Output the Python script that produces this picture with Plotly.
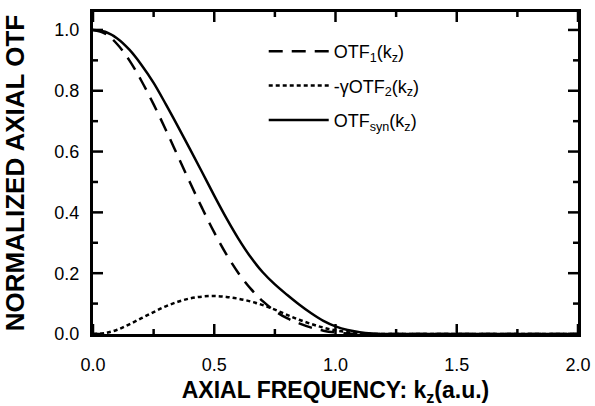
import plotly.graph_objects as go

k = [0.0, 0.05, 0.1, 0.15, 0.2, 0.25, 0.3, 0.35, 0.4, 0.45, 0.5, 0.55, 0.6, 0.65, 0.7,
     0.75, 0.8, 0.85, 0.9, 0.95, 1.0, 1.05, 1.1, 1.15, 1.2, 1.4, 1.6, 1.8, 2.0]
otf1 = [1.0, 0.988, 0.953, 0.9, 0.832, 0.755, 0.672, 0.585, 0.498, 0.414, 0.334, 0.262, 0.2,
        0.149, 0.108, 0.076, 0.052, 0.035, 0.021, 0.011, 0.005, 0.002, 0.0005, 0.0, 0.0,
        0.0, 0.0, 0.0, 0.0]
gotf2 = [0.0, 0.003, 0.014, 0.032, 0.052, 0.072, 0.091, 0.106, 0.117, 0.123, 0.125, 0.122,
         0.116, 0.107, 0.095, 0.08, 0.063, 0.047, 0.033, 0.021, 0.012, 0.006, 0.002, 0.0,
         0.0, 0.0, 0.0, 0.0, 0.0]
otfsyn = [1.0, 0.994, 0.972, 0.935, 0.885, 0.826, 0.756, 0.683, 0.608, 0.532, 0.455, 0.381,
          0.313, 0.253, 0.203, 0.163, 0.129, 0.097, 0.068, 0.043, 0.025, 0.013, 0.006, 0.002,
          0.0, 0.0, 0.0, 0.0, 0.0]

names = ["OTF<sub>1</sub>(k<sub>z</sub>)",
         "-\u03b3OTF<sub>2</sub>(k<sub>z</sub>)",
         "OTF<sub>syn</sub>(k<sub>z</sub>)"]

x_major = [0.0, 0.5, 1.0, 1.5, 2.0]
x_minor = [0.25, 0.75, 1.25, 1.75]
y_major = [0.0, 0.2, 0.4, 0.6, 0.8, 1.0]
y_minor = [0.1, 0.3, 0.5, 0.7, 0.9]
X_MAX = 2.0
Y_MAX = 1.059

W, H = 595, 406
ML, MR, MT, MB = 93, 17, 12, 72
PX_X = X_MAX / (W - ML - MR)   # data units per pixel, x
PX_Y = Y_MAX / (H - MT - MB)   # data units per pixel, y

fig = go.Figure()
fig.add_trace(go.Scatter(x=k, y=otf1, mode="lines", name=names[0], legendgroup="a",
                         line=dict(color="black", width=2.5, dash="14px,9px", shape="spline")))
fig.add_trace(go.Scatter(x=k, y=gotf2, mode="lines", name=names[1], legendgroup="b",
                         line=dict(color="black", width=2.5, dash="4px,3px", shape="spline")))
fig.add_trace(go.Scatter(x=k, y=otfsyn, mode="lines", name=names[2], legendgroup="c",
                         line=dict(color="black", width=2.5, shape="spline")))

# inside tick marks on all four sides, drawn as short line segments (one trace)
MAJOR_LEN, MINOR_LEN = 10, 5
tx, ty = [], []
for vals, ln in ((x_major, MAJOR_LEN), (x_minor, MINOR_LEN)):
    d = ln * PX_Y
    for v in vals:
        tx += [v, v, None, v, v, None]
        ty += [0.0, d, None, Y_MAX, Y_MAX - d, None]
for vals, ln in ((y_major, MAJOR_LEN), (y_minor, MINOR_LEN)):
    d = ln * PX_X
    for v in vals:
        tx += [0.0, d, None, X_MAX, X_MAX - d, None]
        ty += [v, v, None, v, v, None]
fig.add_trace(go.Scatter(x=tx, y=ty, mode="lines", showlegend=False, hoverinfo="skip",
                         connectgaps=False, line=dict(color="black", width=2.5)))

font = "Liberation Sans, Arial, sans-serif"

fig.update_xaxes(range=[0, X_MAX], tickvals=x_major, ticktext=[f"{v:.1f}" for v in x_major],
                 showline=True, linecolor="black", linewidth=3, mirror=True,
                 ticks="", showgrid=False, zeroline=False, automargin=False,
                 ticklabelstandoff=12, ticklabeloverflow="allow",
                 tickfont=dict(family=font, size=18, color="black"),
                 title=dict(text="AXIAL FREQUENCY: k<sub>z</sub>(a.u.)",
                            font=dict(family=font, size=23, color="black", weight="bold"),
                            standoff=18))
fig.update_yaxes(range=[0, Y_MAX], tickvals=y_major, ticktext=[f"{v:.1f}" for v in y_major],
                 showline=True, linecolor="black", linewidth=3, mirror=True,
                 ticks="", showgrid=False, zeroline=False, automargin=False,
                 ticklabelstandoff=7,
                 tickfont=dict(family=font, size=18, color="black"),
                 title=dict(text="NORMALIZED AXIAL OTF",
                            font=dict(family=font, size=26, color="black", weight="bold"),
                            standoff=28))

fig.update_layout(
    width=W, height=H,
    margin=dict(l=ML, r=MR, t=MT, b=MB),
    paper_bgcolor="white", plot_bgcolor="white",
    showlegend=True,
    legend=dict(x=0.352, y=0.935, xanchor="left", yanchor="top",
                bgcolor="rgba(0,0,0,0)", borderwidth=0,
                font=dict(family=font, size=18, color="black"),
                tracegroupgap=8, itemwidth=60),
)

fig.write_html("out.html", config={"displayModeBar": False},
               post_script="document.body.style.margin='0';")
